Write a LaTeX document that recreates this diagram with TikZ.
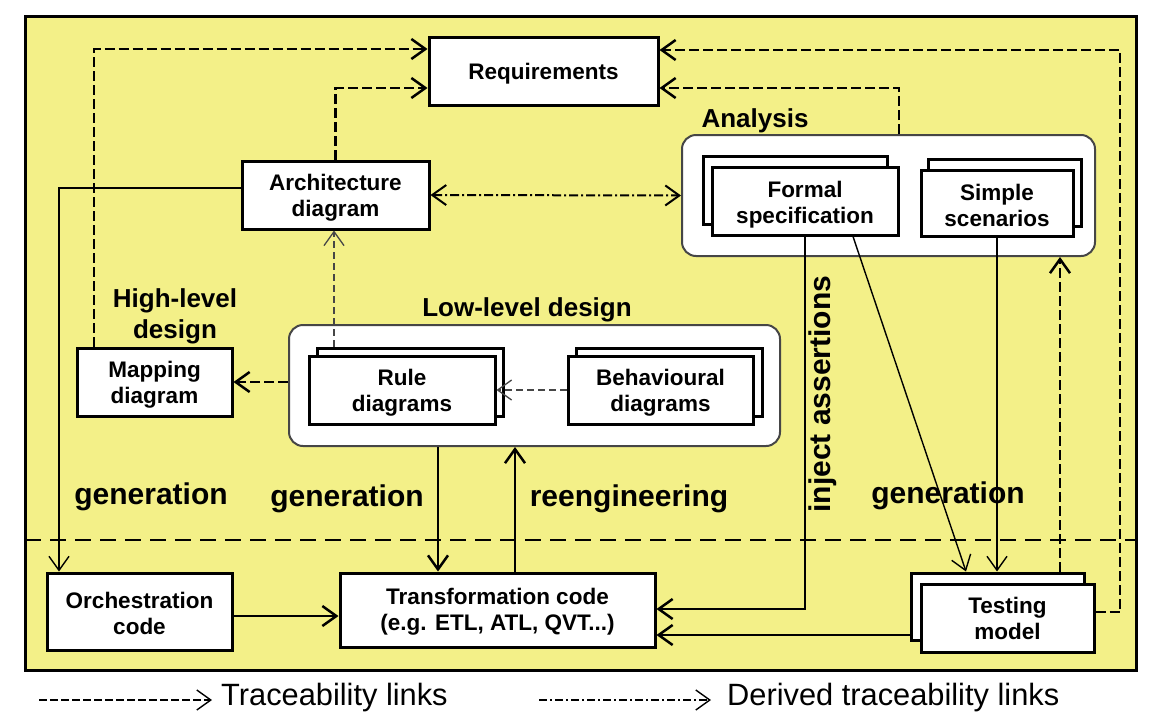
\documentclass[tikz,border=0pt]{standalone}
\usepackage{fontspec}
\setmainfont{Liberation Sans}
\usetikzlibrary{arrows.meta,calc}
\definecolor{bgyellow}{RGB}{243,240,136}
\definecolor{grayline}{RGB}{70,70,70}
\tikzset{
  >={Straight Barb[length=14pt,width=20pt]},
  box/.style={draw, line width=3pt, fill=white, inner sep=0pt},
  boxtext/.style={font=\fontsize{22.5}{26}\selectfont\bfseries, align=center, inner sep=0pt},
  grp/.style={draw=grayline, line width=2pt, fill=white, rounded corners=14pt, inner sep=0pt},
  glabel/.style={font=\fontsize{26}{31}\selectfont\bfseries, align=center, inner sep=0pt},
  biglabel/.style={font=\fontsize{30}{34}\selectfont\bfseries, inner sep=0pt},
  legtext/.style={font=\fontsize{30.8}{34}\selectfont, inner sep=0pt, anchor=west},
  trace/.style={line width=2.5pt, dash pattern=on 10pt off 4pt},
  derived/.style={line width=2pt, dash pattern=on 9pt off 3pt on 2pt off 3pt},
  tracethin/.style={line width=1.3pt, draw=grayline, dash pattern=on 7pt off 4pt},
  conn/.style={line width=2.5pt},
  thinconn/.style={line width=1.4pt},
  sepline/.style={line width=2.5pt, dash pattern=on 16pt off 9pt},
}
\begin{document}
\begin{tikzpicture}[x=1pt,y=-1pt]
\useasboundingbox (0,0) rectangle (1156,726);
% background panel
\fill[bgyellow] (25,16) rectangle (1136,670);
\draw[line width=3pt] (25,16) rectangle (1136,670);
\draw[sepline] (25,540) -- (1136,540);

% groups
\node[grp, minimum width=413pt, minimum height=121pt] (analysis) at (888.5,195.5) {};
\node[grp, minimum width=491pt, minimum height=121pt] (low) at (534.5,385.5) {};
\node[glabel] (analysislab) at (755,121) {Analysis};
\node[glabel] (lowlab) at (527,310) {Low-level design};
\node[glabel] (highlab) at (175,316) {High-level\\design};

% boxes
\node[box, minimum width=229pt, minimum height=68pt] (req) at (543.5,71) {};
\node[box, minimum width=187pt, minimum height=68pt] (arch) at (335.5,195) {};
\node[box, minimum width=184pt, minimum height=68pt] (formalB) at (795,190) {};
\node[box, minimum width=186pt, minimum height=68pt] (formal) at (805,201) {};
\node[box, minimum width=153pt, minimum height=67pt] (simpleB) at (1004.5,192.5) {};
\node[box, minimum width=152pt, minimum height=66pt] (simple) at (997,203) {};
\node[box, minimum width=186pt, minimum height=68pt] (ruleB) at (410,382) {};
\node[box, minimum width=186pt, minimum height=68pt] (rule) at (402,390) {};
\node[box, minimum width=186pt, minimum height=68pt] (behB) at (669,382) {};
\node[box, minimum width=185pt, minimum height=68pt] (beh) at (660.5,390) {};
\node[box, minimum width=155pt, minimum height=68pt] (map) at (154.5,382) {};
\node[box, minimum width=185pt, minimum height=77pt] (orch) at (139.5,611.5) {};
\node[box, minimum width=315pt, minimum height=74pt] (trans) at (497.5,610) {};
\node[box, minimum width=173pt, minimum height=67pt] (testB) at (997.5,606.5) {};
\node[box, minimum width=173pt, minimum height=68pt] (test) at (1007.5,618) {};

% box texts
\node[boxtext] (reqt) at ([yshift=-3pt]req.center) {Requirements};
\node[boxtext] (archt) at ([yshift=-3pt]arch.center) {Architecture\\diagram};
\node[boxtext] (formalt) at ([yshift=-4pt]formal.center) {Formal\\specification};
\node[boxtext] (simplet) at ([yshift=-2pt]simple.center) {Simple\\scenarios};
\node[boxtext] (rulet) at ([yshift=-3pt]rule.center) {Rule\\diagrams};
\node[boxtext] (beht) at ([yshift=-3pt]beh.center) {Behavioural\\diagrams};
\node[boxtext] (mapt) at ([yshift=-3pt]map.center) {Mapping\\diagram};
\node[boxtext] (orcht) at ([yshift=-2pt]orch.center) {Orchestration\\code};
\node[boxtext] (transt) at ([yshift=-2pt]trans.center) {Transformation code\\(e.g. ETL, ATL, QVT...)};
\node[boxtext] (testt) at (test.center) {Testing\\model};

% labels
\node[biglabel] (gen1) at (151,497) {generation};
\node[biglabel] (gen2) at (347,499) {generation};
\node[biglabel] (reeng) at (629,499) {reengineering};
\node[biglabel] (gen3) at (948,496) {generation};
\node[biglabel, rotate=90] (inject) at (823,394) {inject assertions};

% traceability links
\coordinate (rc) at (1120,50);
\draw[trace,->] ([xshift=-60.5pt]map.north) |- ([yshift=22pt]req.west);
\draw[trace,->] (arch.north) |- ([yshift=-17pt]req.west);
\draw[trace,->] ([xshift=10.5pt]analysis.north) |- ([yshift=-17pt]req.east);
\draw[trace,->] ([yshift=6pt]test.east) -| (rc) -- (rc -| req.east);
\draw[trace,->] ([xshift=62.5pt]testB.north) -- ([xshift=62.5pt]testB.north |- analysis.south);
\draw[trace,->] (map.east -| low.west) -- (map.east);
\draw[tracethin,->] ([xshift=-76pt]ruleB.north) -- ([xshift=-76pt]ruleB.north |- arch.south);
\draw[tracethin,->] (beh.west) -- (rule.east);
\draw[derived,<->] (arch.east) -- (analysis.west);

% solid connectors
\draw[thinconn,->] ([yshift=7pt]arch.west) -| ([xshift=-80.5pt]orch.north);
\draw[conn,->] ([xshift=-59.5pt]trans.north |- low.south) -- ([xshift=-59.5pt]trans.north);
\draw[conn,->] ([xshift=17.5pt]trans.north) -- ([xshift=17.5pt]trans.north |- low.south);
\draw[conn,->] (formal.south) |- ([yshift=1pt]trans.east);
\draw[conn,->] ([yshift=-28.5pt]testB.west) -- ([yshift=-28.5pt]testB.west -| trans.east);
\draw[conn,->] ([yshift=-4.5pt]orch.east) -- ([yshift=-4.5pt]orch.east -| trans.west);
\draw[thinconn,->] ([xshift=48pt]formal.south) -- ([xshift=-31.5pt]testB.north);
\draw[thinconn,->] (simple.south) -- (simple.south |- testB.north);

% legend
\coordinate (la) at (39,700);
\coordinate (lb) at (212,700);
\coordinate (lc) at (539,700);
\coordinate (ld) at (711,700);
\draw[line width=1.4pt, dash pattern=on 8pt off 3pt, ->] (la) -- (lb);
\node[legtext] (lt1) at (221,698) {Traceability links};
\draw[line width=1.4pt, dash pattern=on 8pt off 3pt on 2pt off 3pt, ->] (lc) -- (ld);
\node[legtext] (lt2) at (727,698) {Derived traceability links};
\end{tikzpicture}
\end{document}
